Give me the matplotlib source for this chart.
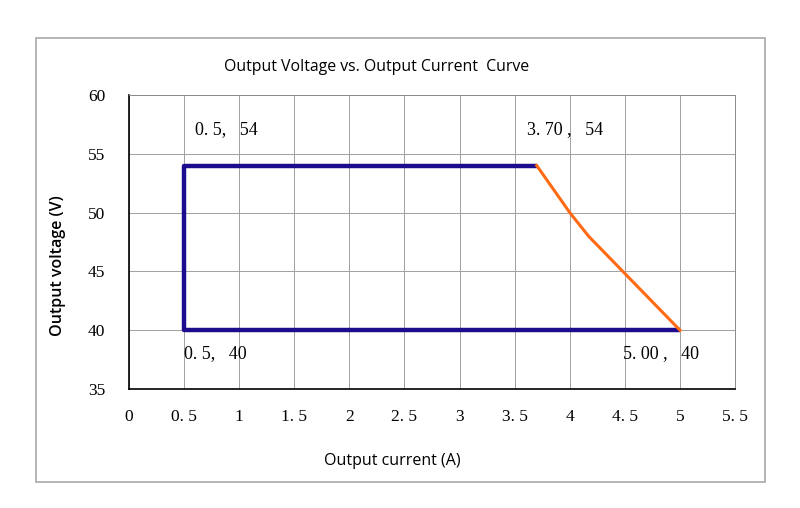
import matplotlib
matplotlib.use("Agg")
import matplotlib.pyplot as plt
from matplotlib.patches import Rectangle

# data
box_x = [3.7, 0.5, 0.5, 5.0]
box_v = [54, 54, 40, 40]
droop_x = [3.7, 4.0, 4.17, 5.0]
droop_v = [54, 50, 48, 40]

xticks = [0, 0.5, 1, 1.5, 2, 2.5, 3, 3.5, 4, 4.5, 5, 5.5]
xtick_labels = ["0", "0. 5", "1", "1. 5", "2", "2. 5", "3", "3. 5", "4", "4. 5", "5", "5. 5"]
yticks = [35, 40, 45, 50, 55, 60]

notes = ["0. 5,   54", "3. 70 ,   54", "0. 5,   40", "5. 00 ,   40"]
note_xy = [(0.5, 54), (3.7, 54), (0.5, 40), (5.0, 40)]
note_off = [(8, 26), (-7, 26), (0, -17), (-41, -17)]

serif = "Liberation Serif"
sans = "Open Sans"

fig = plt.figure(figsize=(8, 5.08), dpi=100)
ax = fig.add_axes([0.161, 0.234, 0.758, 0.579])

ax.plot(box_x, box_v, color="#1c0c8e", lw=3.2, solid_capstyle="butt", zorder=3)
ax.plot(droop_x, droop_v, color="#ff6a14", lw=2.2, zorder=4)

ax.set_xlim(0, 5.5)
ax.set_ylim(35, 60)
ax.set_xticks(xticks)
ax.set_xticklabels(xtick_labels, fontfamily=serif, fontsize=12.5)
ax.set_yticks(yticks)
ax.set_yticklabels([str(v) for v in yticks], fontfamily=serif, fontsize=12.5)
ax.tick_params(length=0, pad=14)
ax.tick_params(axis="y", pad=17)
ax.grid(True, color="#a0a0a0", lw=0.7)
ax.set_axisbelow(True)
for s in ["top", "right"]:
    ax.spines[s].set_color("#8a8a8a")
    ax.spines[s].set_linewidth(0.7)
for s in ["left", "bottom"]:
    ax.spines[s].set_color("black")
    ax.spines[s].set_linewidth(1.2)

for txt, xy, off in zip(notes, note_xy, note_off):
    ax.annotate(txt, xy=xy, xytext=off, textcoords="offset points",
                fontfamily=serif, fontsize=13, va="center", ha="left")

fig.text(0.471, 0.868, "Output Voltage vs. Output Current  Curve",
         fontfamily=sans, fontsize=11.4, ha="center", va="center")
fig.text(0.491, 0.093, "Output current (A)", fontfamily=sans, fontsize=11.5,
         ha="center", va="center")
fig.text(0.073, 0.478, "Output voltage (V)", fontfamily=sans, fontsize=11.5,
         fontweight="semibold", rotation=90, ha="center", va="center")

fig.patches.append(Rectangle((36 / 800, 1 - 482 / 508), 729 / 800, 444 / 508,
                             transform=fig.transFigure, fill=False,
                             edgecolor="#a8a8a8", lw=1.2))

fig.savefig("out.png", dpi=100)
